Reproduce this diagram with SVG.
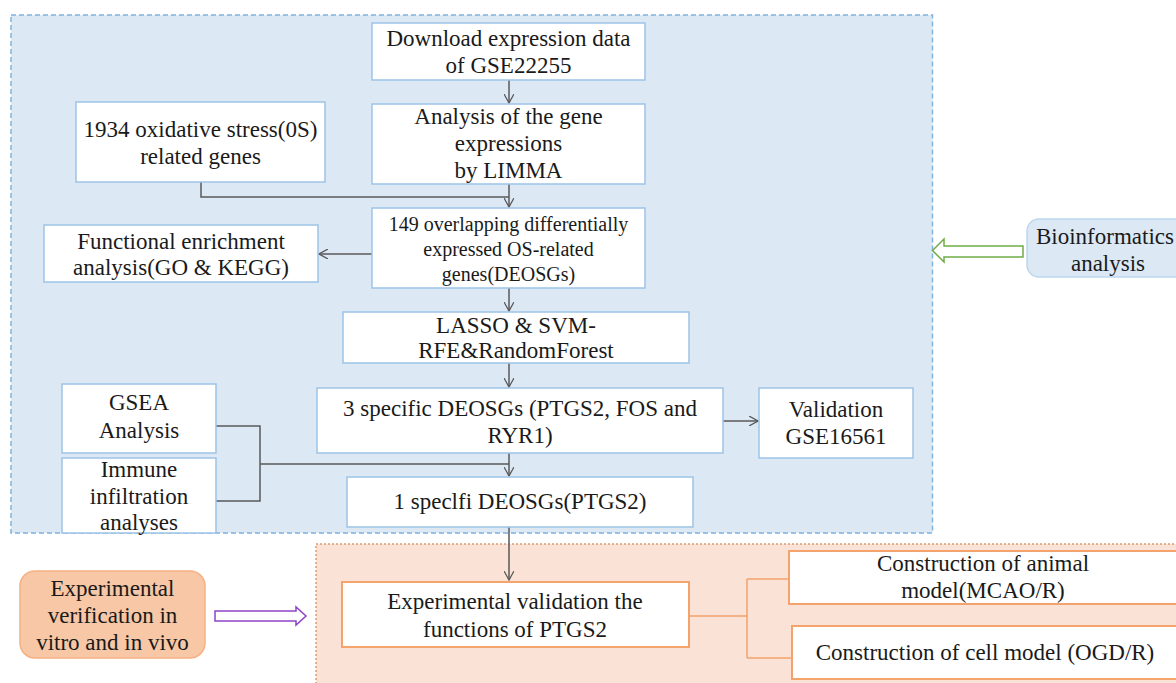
<svg xmlns="http://www.w3.org/2000/svg" width="1176" height="683" viewBox="0 0 1176 683" font-family="'Liberation Serif', 'DejaVu Serif', serif">
<defs>
<style>
text{font-family:'Liberation Serif','DejaVu Serif','Times New Roman',serif;fill:#1a1a1a;text-anchor:middle;font-size:23px}
.sm{font-size:20px}
.bx{fill:#fff;stroke:#9dc3e6;stroke-width:1.5}
.ob{fill:#fff;stroke:#f4a36c;stroke-width:2}
.cn{fill:none;stroke:#595959;stroke-width:1.5}
.oc{fill:none;stroke:#f4a36c;stroke-width:1.5}
</style>
<marker id="ah" viewBox="0 0 10 10" refX="9" refY="5" markerWidth="10" markerHeight="10" markerUnits="userSpaceOnUse" orient="auto">
<path d="M0,0 L9,5 L0,10" fill="none" stroke="#595959" stroke-width="1.3"/>
</marker>
</defs>
<rect width="1176" height="683" fill="#fff"/>
<g id="region-bio">
<rect x="11" y="15" width="921.5" height="518" fill="#dde8f5" stroke="#7fb2e0" stroke-width="1.5" stroke-dasharray="5,3"/>
</g>
<g id="region-exp">
<rect x="316" y="544" width="870" height="150" fill="#fae3d6" stroke="#d99a72" stroke-width="1.5" stroke-dasharray="2,2"/>
</g>
<g id="connectors">
<path class="cn" d="M509,80 V103" marker-end="url(#ah)"/>
<path class="cn" d="M509,184 V207" marker-end="url(#ah)"/>
<path class="cn" d="M201,182 V197 H509"/>
<path class="cn" d="M372,254 H319" marker-end="url(#ah)"/>
<path class="cn" d="M509,288 V311" marker-end="url(#ah)"/>
<path class="cn" d="M509,363 V387" marker-end="url(#ah)"/>
<path class="cn" d="M723,421 H758" marker-end="url(#ah)"/>
<path class="cn" d="M509,453 V476" marker-end="url(#ah)"/>
<path class="cn" d="M216,426 H260 V501 H216 M260,464 H509"/>
<path class="cn" d="M509,527 V580" marker-end="url(#ah)"/>
<path class="oc" d="M689,616 H747 M747,579 V658 M747,579 H789 M747,658 H792"/>
<path d="M1023,246 H944 V239 L932.5,250.5 L944,262 V257 H1023 Z" fill="#fff" stroke="#70ad47" stroke-width="1.5"/>
<path d="M215,611 H296 V607 L306,616 L296,625 V621 H215 Z" fill="#fff" stroke="#8e44c4" stroke-width="1.5"/>
</g>
<g id="n-download">
<rect class="bx" x="372" y="23" width="273" height="57"/>
<text x="508.5" y="46">Download expression data</text>
<text x="508.5" y="73">of GSE22255</text>
</g>
<g id="n-limma">
<rect class="bx" x="372" y="104" width="273" height="80"/>
<text x="508.5" y="124">Analysis of the gene</text>
<text x="508.5" y="151">expressions</text>
<text x="508.5" y="178">by LIMMA</text>
</g>
<g id="n-os">
<rect class="bx" x="76" y="102" width="249" height="80"/>
<text x="200.5" y="137">1934 oxidative stress(0S)</text>
<text x="200.5" y="164">related genes</text>
</g>
<g id="n-deosg">
<rect class="bx" x="372" y="208" width="273" height="80"/>
<text class="sm" x="508.5" y="231">149 overlapping differentially</text>
<text class="sm" x="508.5" y="256">expressed OS-related</text>
<text class="sm" x="508.5" y="281">genes(DEOSGs)</text>
</g>
<g id="n-func">
<rect class="bx" x="44" y="225" width="274" height="57"/>
<text x="181" y="249">Functional enrichment</text>
<text x="181" y="275">analysis(GO &amp; KEGG)</text>
</g>
<g id="n-lasso">
<rect class="bx" x="343" y="312" width="346" height="51"/>
<text x="516" y="333">LASSO &amp; SVM-</text>
<text x="516" y="358">RFE&amp;RandomForest</text>
</g>
<g id="n-three">
<rect class="bx" x="317" y="388" width="406" height="65"/>
<text x="520" y="416">3 specific DEOSGs (PTGS2, FOS and</text>
<text x="520" y="443">RYR1)</text>
</g>
<g id="n-valid">
<rect class="bx" x="759" y="388" width="154" height="70"/>
<text x="836" y="417">Validation</text>
<text x="836" y="444">GSE16561</text>
</g>
<g id="n-gsea">
<rect class="bx" x="62" y="384" width="154" height="69"/>
<text x="139" y="410">GSEA</text>
<text x="139" y="438">Analysis</text>
</g>
<g id="n-immune">
<rect class="bx" x="62" y="458" width="154" height="75"/>
<text x="139" y="477">Immune</text>
<text x="139" y="504">infiltration</text>
<text x="139" y="530">analyses</text>
</g>
<g id="n-one">
<rect class="bx" x="347" y="477" width="346" height="50"/>
<text x="520" y="509">1 speclfi DEOSGs(PTGS2)</text>
</g>
<g id="n-expval">
<rect class="ob" x="342" y="582" width="347" height="65"/>
<text x="515" y="609">Experimental validation the</text>
<text x="515" y="637">functions of PTGS2</text>
</g>
<g id="n-animal">
<rect class="ob" x="789" y="551" width="400" height="53"/>
<text x="983" y="571">Construction of animal</text>
<text x="983" y="598">model(MCAO/R)</text>
</g>
<g id="n-cell">
<rect class="ob" x="792" y="626" width="400" height="53"/>
<text x="985" y="660">Construction of cell model (OGD/R)</text>
</g>
<g id="n-expver">
<rect x="20" y="571" width="185" height="87" rx="15" fill="#f7c7a6" stroke="#f4b183" stroke-width="1.5"/>
<text x="112.5" y="596">Experimental</text>
<text x="112.5" y="623">verification in</text>
<text x="112.5" y="650">vitro and in vivo</text>
</g>
<g id="n-bioinfo">
<rect x="1027" y="219" width="170" height="58" rx="12" fill="#dce8f4" stroke="#bdd7ee" stroke-width="1.5"/>
<text x="1105" y="244">Bioinformatics</text>
<text x="1108" y="271">analysis</text>
</g>
</svg>
